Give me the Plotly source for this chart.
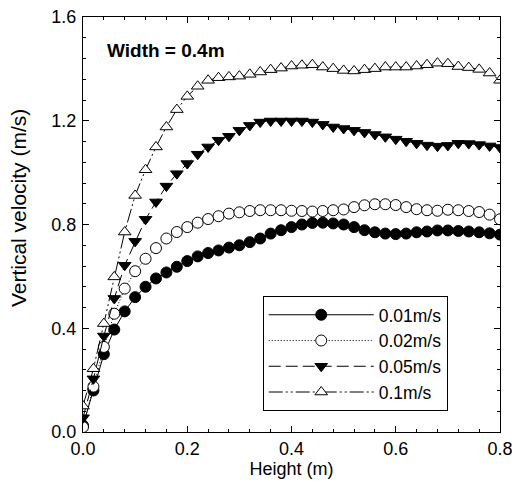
import plotly.graph_objects as go

height_m = [round(i * 0.02, 2) for i in range(41)]

v_001 = [0.025, 0.16, 0.30, 0.395, 0.465, 0.52, 0.56, 0.592, 0.615, 0.637,
         0.659, 0.677, 0.690, 0.700, 0.711, 0.720, 0.732, 0.746, 0.765, 0.778,
         0.790, 0.800, 0.806, 0.807, 0.804, 0.800, 0.790, 0.778, 0.770, 0.765,
         0.763, 0.765, 0.770, 0.773, 0.777, 0.777, 0.775, 0.773, 0.770, 0.766,
         0.761]
v_002 = [0.019, 0.175, 0.328, 0.456, 0.553, 0.620, 0.668, 0.709, 0.746, 0.771,
         0.790, 0.807, 0.821, 0.832, 0.842, 0.847, 0.852, 0.855, 0.855, 0.855,
         0.853, 0.852, 0.850, 0.852, 0.855, 0.858, 0.867, 0.874, 0.878, 0.878,
         0.875, 0.867, 0.859, 0.855, 0.853, 0.857, 0.855, 0.852, 0.848, 0.838,
         0.820]
v_005 = [0.055, 0.205, 0.37, 0.515, 0.643, 0.735, 0.820, 0.887, 0.948, 0.996,
         1.035, 1.071, 1.099, 1.125, 1.140, 1.163, 1.182, 1.195, 1.199, 1.199,
         1.199, 1.199, 1.195, 1.186, 1.176, 1.170, 1.163, 1.155, 1.147, 1.138,
         1.129, 1.121, 1.113, 1.106, 1.102, 1.105, 1.113, 1.112, 1.108, 1.103,
         1.097]
v_01 = [0.10, 0.244, 0.418, 0.598, 0.771, 0.912, 1.011, 1.099, 1.176, 1.243,
        1.294, 1.333, 1.356, 1.366, 1.369, 1.372, 1.379, 1.388, 1.397, 1.403,
        1.411, 1.414, 1.416, 1.407, 1.401, 1.394, 1.392, 1.397, 1.401, 1.407,
        1.407, 1.407, 1.411, 1.416, 1.422, 1.420, 1.409, 1.405, 1.398, 1.384,
        1.356]

series_names = ["0.01m/s", "0.02m/s", "0.05m/s", "0.1m/s"]
x_ticks = [0.0, 0.2, 0.4, 0.6, 0.8]
y_ticks = [0.0, 0.4, 0.8, 1.2, 1.6]

FONT = "Liberation Sans, Arial, sans-serif"

styles = [
    dict(symbol="circle", fill="black", dash="solid"),
    dict(symbol="circle", fill="white", dash="1px,2px"),
    dict(symbol="triangle-down", fill="black", dash="12px,5px"),
    dict(symbol="triangle-up", fill="white", dash="14px,3px,2px,3px,2px,3px"),
]

fig = go.Figure()
for name, vals, st in zip(series_names, [v_001, v_002, v_005, v_01], styles):
    fig.add_trace(go.Scatter(
        x=height_m, y=vals, name=name, mode="lines+markers",
        line=dict(color="black", width=1, dash=st["dash"]),
        marker=dict(symbol=st["symbol"], size=11, color=st["fill"],
                    line=dict(color="black", width=1)),
    ))

axis_common = dict(
    showline=True, linecolor="black", linewidth=1, mirror="ticks",
    ticks="inside", ticklen=6, tickcolor="black", showgrid=False,
    zeroline=False, automargin=False, ticklabeloverflow="allow",
    tickfont=dict(family=FONT, size=18, color="black"),
)

fig.update_layout(
    width=512, height=504,
    margin=dict(l=83, r=12, t=17, b=72, autoexpand=False),
    paper_bgcolor="white", plot_bgcolor="white",
    font=dict(family=FONT, color="black"),
    xaxis=dict(range=[0, 0.8], tickvals=x_ticks, tickformat=".1f",
               ticklabelstandoff=0,
               minor=dict(dtick=0.04, ticks="inside", ticklen=3, tickcolor="black"),
               title=dict(text="Height (m)", font=dict(family=FONT, size=18), standoff=1),
               **axis_common),
    yaxis=dict(range=[0, 1.6], tickvals=y_ticks, tickformat=".1f",
               ticklabelstandoff=2,
               minor=dict(dtick=0.08, ticks="inside", ticklen=3, tickcolor="black"),
               **axis_common),
    legend=dict(x=0.431, y=0.328, xanchor="left", yanchor="top",
                bordercolor="black", borderwidth=1, bgcolor="white",
                font=dict(family=FONT, size=17.5, color="black"),
                itemwidth=105, tracegroupgap=0),
    showlegend=True,
    annotations=[
        dict(x=0.043, y=1.47, xref="x", yref="y", text="<b>Width = 0.4m</b>",
             showarrow=False, xanchor="left", yanchor="middle",
             font=dict(family=FONT, size=19, color="black")),
        dict(x=-0.153, y=0.54, xref="paper", yref="paper", text="Vertical velocity (m/s)",
             textangle=-90, showarrow=False, xanchor="center", yanchor="middle",
             font=dict(family=FONT, size=21, color="black")),
    ],
)

fig.write_html(
    "out.html",
    config={"displayModeBar": False},
    post_script="document.body.style.margin='0';document.body.style.padding='0';"
                "document.body.style.overflow='hidden';",
)
